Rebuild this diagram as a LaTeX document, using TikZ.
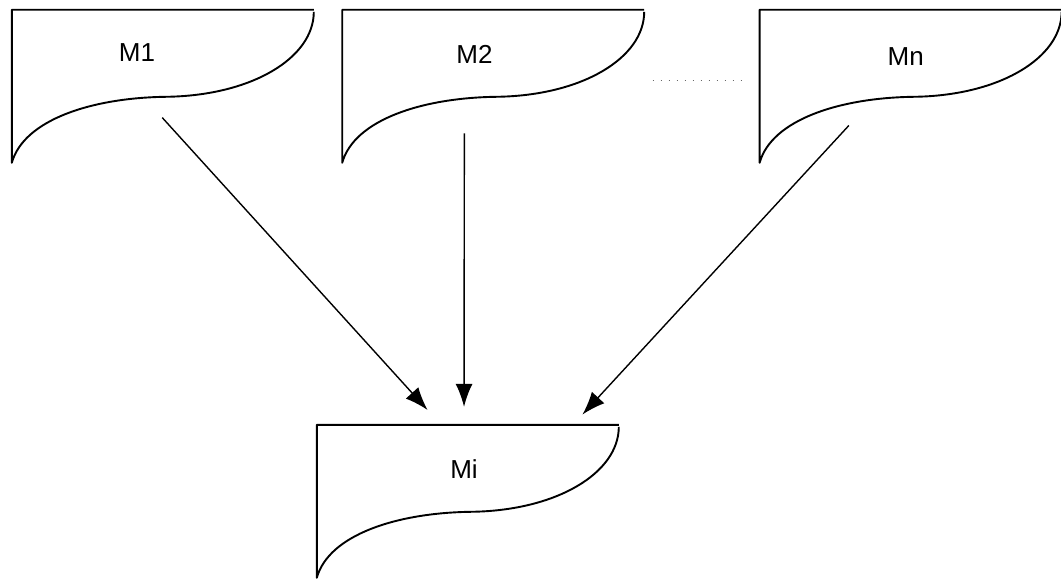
\documentclass[tikz,border=0pt]{standalone}
\usepackage{fontspec}
\setmainfont{Liberation Sans}
\usetikzlibrary{arrows.meta,positioning}

\begin{document}
\begin{tikzpicture}[
  x=1pt,y=1pt,
  docbox/.style={minimum width=302pt,minimum height=153pt,inner sep=0pt},
  lbl/.style={font=\fontsize{26}{30}\selectfont,inner sep=0pt},
  outline/.style={line width=1.9pt,line join=round},
  arr/.style={-{Latex[length=23pt,width=17pt]},line width=1.4pt},
  dots/.style={line width=0.8pt,dash pattern=on 1pt off 7pt,black!60}
]
\useasboundingbox (0,0) rectangle (1061,582);
\node[docbox,label={[lbl,xshift=-26pt,yshift=34pt]center:M1}] (m1) at (163,495.5) {};
\node[docbox,right=28pt of m1,label={[lbl,xshift=-19pt,yshift=32pt]center:M2}] (m2) {};
\node[docbox,right=115pt of m2,label={[lbl,xshift=-5pt,yshift=30pt]center:Mn}] (mn) {};
\node[docbox,label={[lbl,xshift=-4pt,yshift=32pt]center:Mi}] (mi) at (468,80.5) {};
% document outlines
\foreach \n in {m1,m2,mn,mi}{
  \begin{scope}[shift={(\n.north west)},y=-1pt]
    \draw[outline] (302,2) .. controls (302,48) and (240,86) .. (154,87)
      .. controls (80,88) and (12,110) .. (0,153) -- (0,0) -- (302,0);
  \end{scope}
}
\draw[dots] ([xshift=8pt,yshift=6.5pt]m2.east) -- ([xshift=-17pt,yshift=6.5pt]mn.west);
\draw[arr,shorten <=42pt,shorten >=20pt] ([xshift=-29pt]m1.center) -- ([xshift=-27pt]mi.north);
\draw[arr,shorten <=47pt,shorten >=18pt] ([xshift=-29pt]m2.center) -- ([xshift=-4pt]mi.north);
\draw[arr,shorten <=53pt,shorten >=14pt] ([xshift=-26pt]mn.center) -- ([xshift=105pt]mi.north);
\end{tikzpicture}
\end{document}
